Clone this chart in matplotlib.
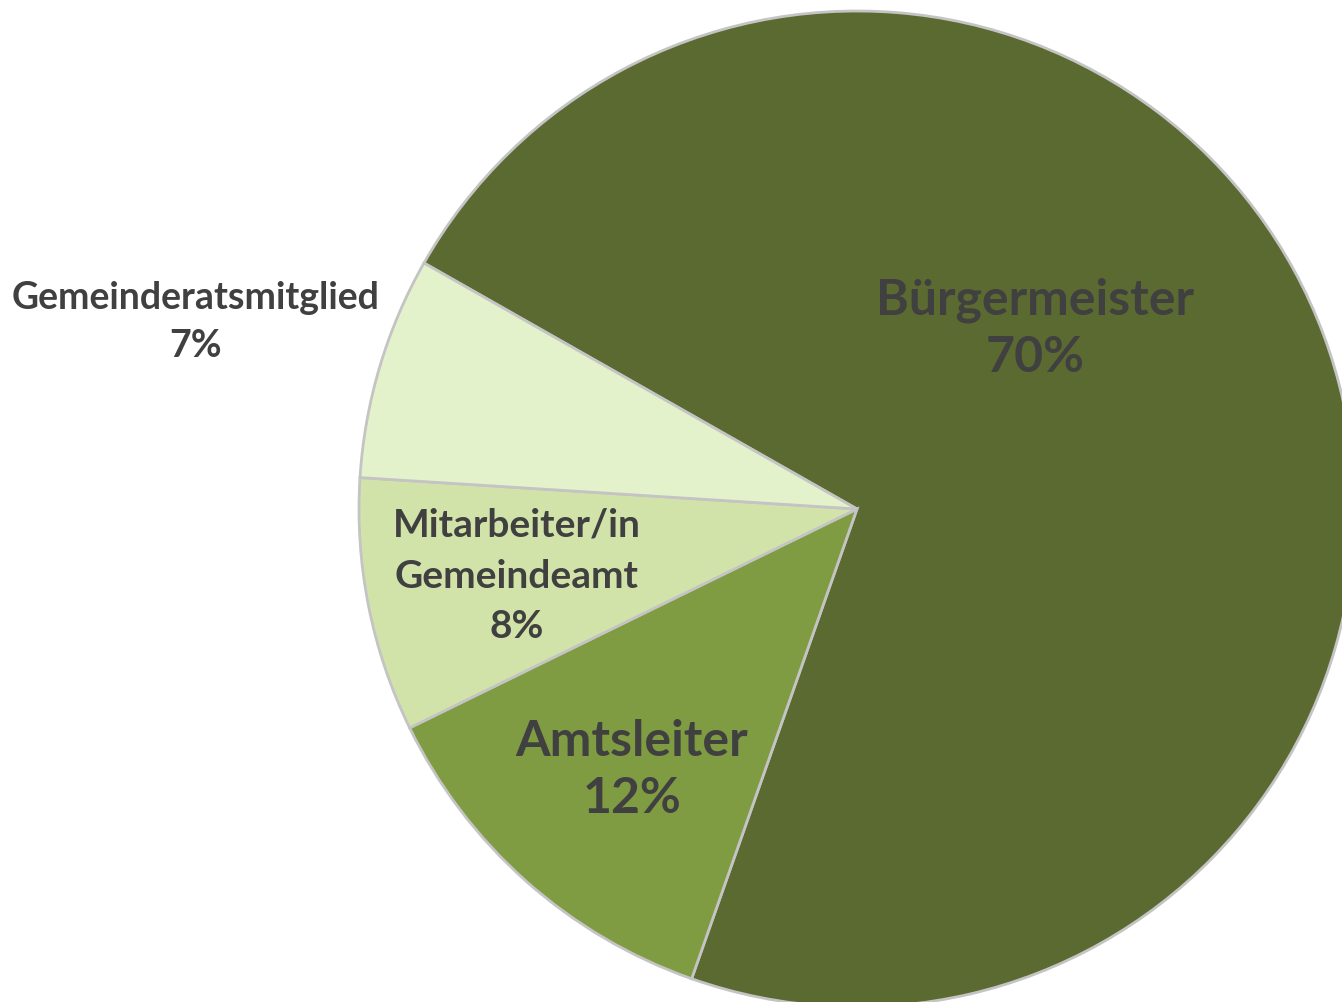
import matplotlib
matplotlib.use("Agg")
import matplotlib.pyplot as plt

categories = ["Bürgermeister", "Amtsleiter", "Mitarbeiter/in\nGemeindeamt", "Gemeinderatsmitglied"]
values = [70, 12, 8, 7]
colors = ["#5A6A30", "#809C42", "#D2E3AA", "#E4F2CC"]

W, H = 1342, 1002
fig = plt.figure(figsize=(W / 100, H / 100), dpi=100)
ax = fig.add_axes([0, 0, 1, 1])

cx, cy, r = 857, H - 509, 498
wedges, _ = ax.pie(values, colors=colors, startangle=150.4, counterclock=False,
                   center=(cx, cy), radius=r, frame=True,
                   wedgeprops=dict(edgecolor="#C4C4C4", linewidth=2.0))
ax.set_xlim(0, W)
ax.set_ylim(0, H)
ax.set_aspect("equal")
ax.axis("off")

tc = "#404040"
fam = ["Lato", "DejaVu Sans"]
labels = [f"{c}\n{v}%" for c, v in zip(categories, values)]
# label positions (pixel coordinates, top-down y) and sizes
pos = [(1035, 329, 36), (632, 770, 36), (517, 576, 28), (196, 322, 27)]
spacing = [1.33, 1.33, 1.55, 1.48]
for lab, (x, y, fs), ls in zip(labels, pos, spacing):
    ax.text(x, H - y, lab, ha="center", va="center", fontsize=fs,
            fontweight="bold", color=tc, family=fam, linespacing=ls)

fig.savefig("out.png", dpi=100)
